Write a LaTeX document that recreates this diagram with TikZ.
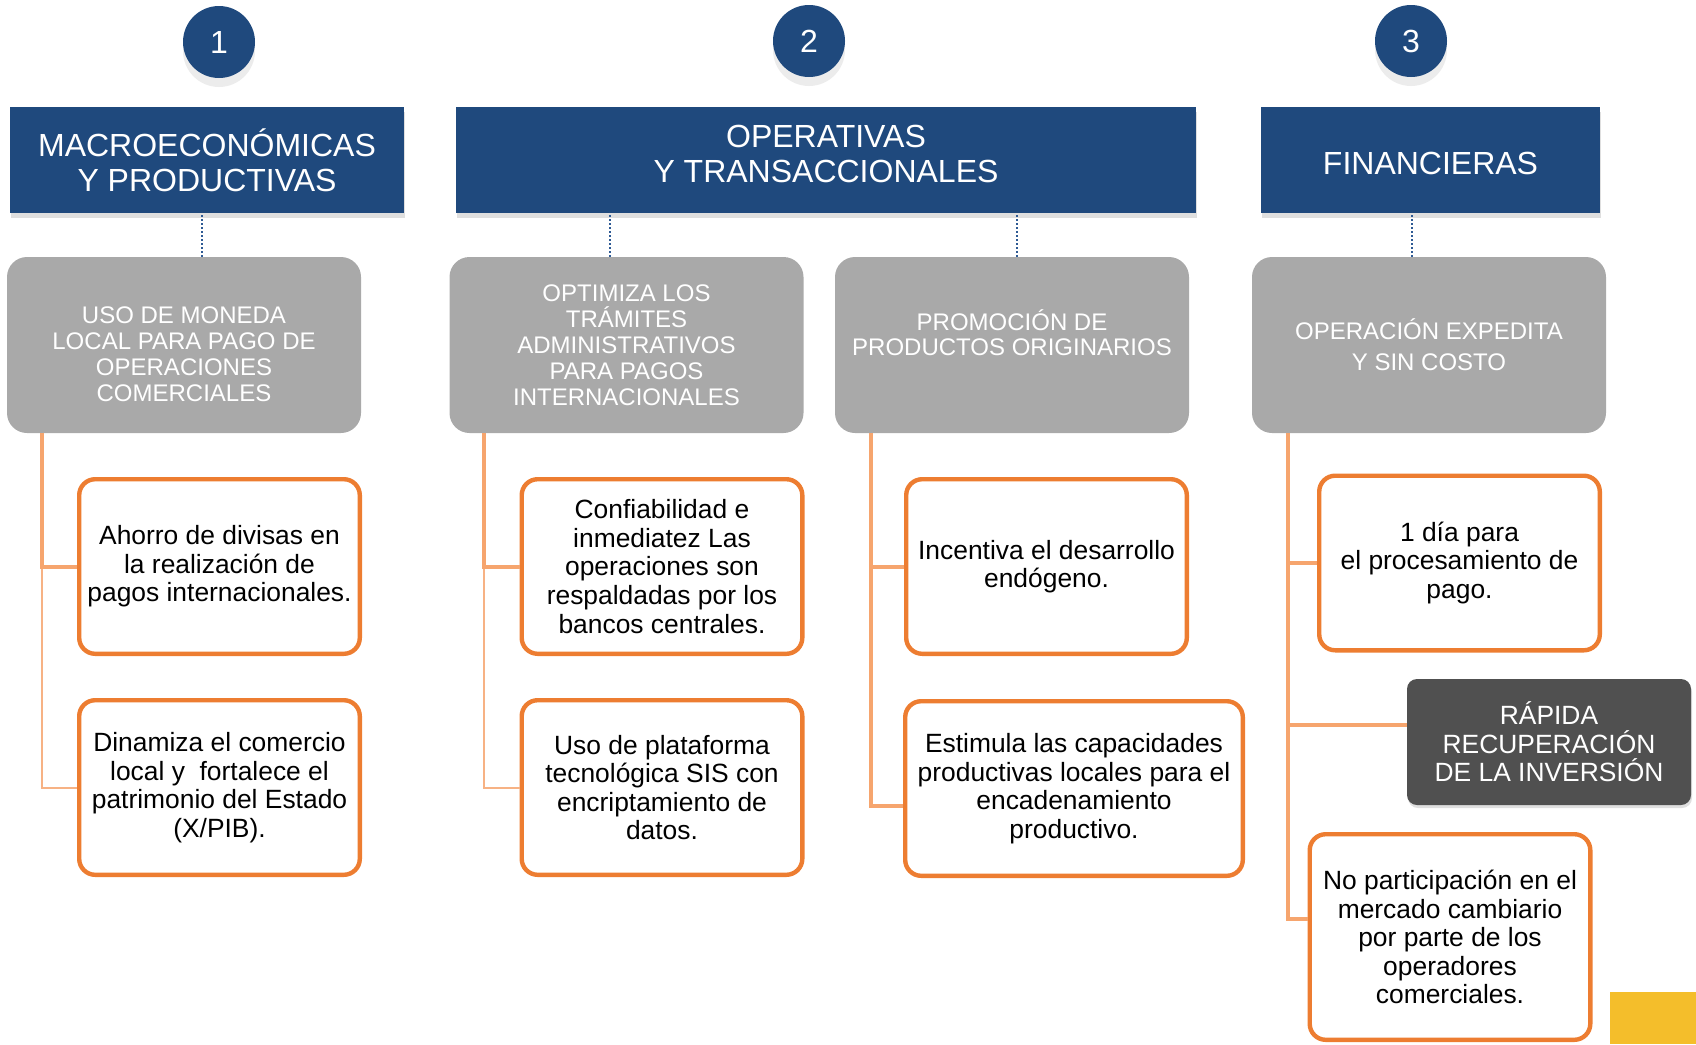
\documentclass[tikz,border=0pt]{standalone}
\usepackage{fontspec}
\setmainfont{Liberation Sans}
\usetikzlibrary{positioning, shadows}

\definecolor{hdblue}{HTML}{1F497D}
\definecolor{dotblue}{HTML}{2E5A94}
\definecolor{boxgray}{HTML}{A9A9A9}
\definecolor{darkbox}{HTML}{505050}
\definecolor{edgeorange}{HTML}{ED7D31}
\definecolor{linkorange}{HTML}{F6A56E}
\definecolor{gold}{HTML}{F4BE2B}

\begin{document}
\begin{tikzpicture}[
	x=0.5pt, y=-0.5pt,
	num/.style={circle, fill=hdblue, minimum size=36pt, inner sep=0pt, text=white,
		font=\fontsize{16}{18}\selectfont,
		drop shadow={shadow xshift=0pt, shadow yshift=-4.5pt, opacity=0.15}},
	head/.style={rectangle, fill=hdblue, minimum height=53pt, inner sep=2pt, text=white,
		align=center, font=\fontsize{16}{17.5}\selectfont,
		drop shadow={shadow xshift=0.5pt, shadow yshift=-2.5pt, opacity=0.25}},
	topic/.style={rectangle, rounded corners=10pt, fill=boxgray, minimum width=177pt,
		minimum height=88pt, text=white, align=center, font=\fontsize{12}{13}\selectfont},
	item/.style={rectangle, rounded corners=8pt, draw=edgeorange, line width=2.2pt, fill=white,
		minimum width=140.3pt, minimum height=87.3pt, inner sep=2pt, align=center,
		font=\fontsize{13.2}{14.3}\selectfont},
	note/.style={rectangle, rounded corners=5pt, fill=darkbox, minimum width=142pt,
		minimum height=63pt, text=white, align=center, font=\fontsize{13.2}{14.3}\selectfont,
		drop shadow={shadow xshift=0.5pt, shadow yshift=-1.5pt, opacity=0.25}},
	link/.style={draw=linkorange, line width=2pt},
	thinlink/.style={draw=linkorange!85, line width=1pt},
	dotlink/.style={draw=dotblue, line width=1pt, dash pattern=on 1pt off 1pt}
]
\useasboundingbox (0,0) rectangle (1696,1044);

\node[num] (n1) at (219,42) {1};
\node[num] (n2) at (809,41) {2};
\node[num] (n3) at (1411,41) {3};

\node[head] (h1) [minimum width=197pt] at (207,160) {MACROECONÓMICAS\\Y PRODUCTIVAS};
\node[head] (h2) [minimum width=370pt, text depth=6.5pt] at (826,160) {OPERATIVAS\\Y TRANSACCIONALES};
\node[head] (h3) [minimum width=169.5pt, text height=14.7pt] at (1430.5,160) {FINANCIERAS};

\node[topic] (g1) [text height=56.2pt] at (184,345) {USO DE MONEDA\\LOCAL PARA PAGO DE\\OPERACIONES\\COMERCIALES};
\node[topic] (g2) at (626.5,345) {OPTIMIZA LOS\\TRÁMITES\\ADMINISTRATIVOS\\PARA PAGOS\\INTERNACIONALES};
\node[topic] (g3) [font=\fontsize{12}{12.5}\selectfont, text depth=12pt] at (1012,345) {PROMOCIÓN DE\\PRODUCTOS ORIGINARIOS};
\node[topic] (g4) [font=\fontsize{12}{15.5}\selectfont] at (1429,345) {OPERACIÓN EXPEDITA\\Y SIN COSTO};

\draw[dotlink] ([xshift=9pt]g1.north) -- ([xshift=9pt]g1.north |- h1.south);
\draw[dotlink] ([xshift=-8.25pt]g2.north) -- ([xshift=-8.25pt]g2.north |- h2.south);
\draw[dotlink] ([xshift=2.5pt]g3.north) -- ([xshift=2.5pt]g3.north |- h2.south);
\draw[dotlink] ([xshift=-8.5pt]g4.north) -- ([xshift=-8.5pt]g4.north |- h3.south);

\node[item] (o11) at (219.5,566.5) {Ahorro de divisas en\\la realización de\\pagos internacionales.};
\node[item] (o12) [below=21pt of o11] {Dinamiza el comercio\\local y~ fortalece el\\patrimonio del Estado\\(X/PIB).};
\node[item] (o21) at (662,566.5) {Confiabilidad e\\inmediatez Las\\operaciones son\\respaldadas por los\\bancos centrales.};
\node[item] (o22) [below=21pt of o21] {Uso de plataforma\\tecnológica SIS con\\encriptamiento de\\datos.};
\node[item] (o31) at (1046.5,566.5) {Incentiva el desarrollo\\endógeno.};
\node[item] (o32) [minimum width=168.8pt] at (1074,788.5) {Estimula las capacidades\\productivas locales para el\\encadenamiento\\productivo.};
\node[item] (o41) at (1459.5,563) {1 día para\\el procesamiento de\\pago.};
\node[note] (d4) at (1549,742) {RÁPIDA\\RECUPERACIÓN\\DE LA INVERSIÓN};
\node[item] (o42) [minimum height=102.8pt] at (1450,937) {No participación en el\\mercado cambiario\\por parte de los\\operadores\\comerciales.};
%\node[item] (o43) [below=20pt of o42] {};

\draw[thinlink] ([xshift=17.5pt]g1.south west) |- (o12.west);
\draw[link] ([xshift=17.5pt]g1.south west) |- (o11.west);
\draw[thinlink] ([xshift=17.5pt]g2.south west) |- (o22.west);
\draw[link] ([xshift=17.5pt]g2.south west) |- (o21.west);
\draw[link] ([xshift=18pt]g3.south west) |- (o31.west);
\draw[link] ([xshift=18pt]g3.south west) |- ([yshift=-8.5pt]o32.west);
\draw[link] ([xshift=18pt]g4.south west) |- (o41.west);
\draw[link] ([xshift=18pt]g4.south west) |- ([yshift=8.5pt]d4.west);
\draw[link] ([xshift=18pt]g4.south west) |- ([yshift=9pt]o42.west);

\fill[gold] (1610,992) rectangle (1696,1044);
\end{tikzpicture}
\end{document}
